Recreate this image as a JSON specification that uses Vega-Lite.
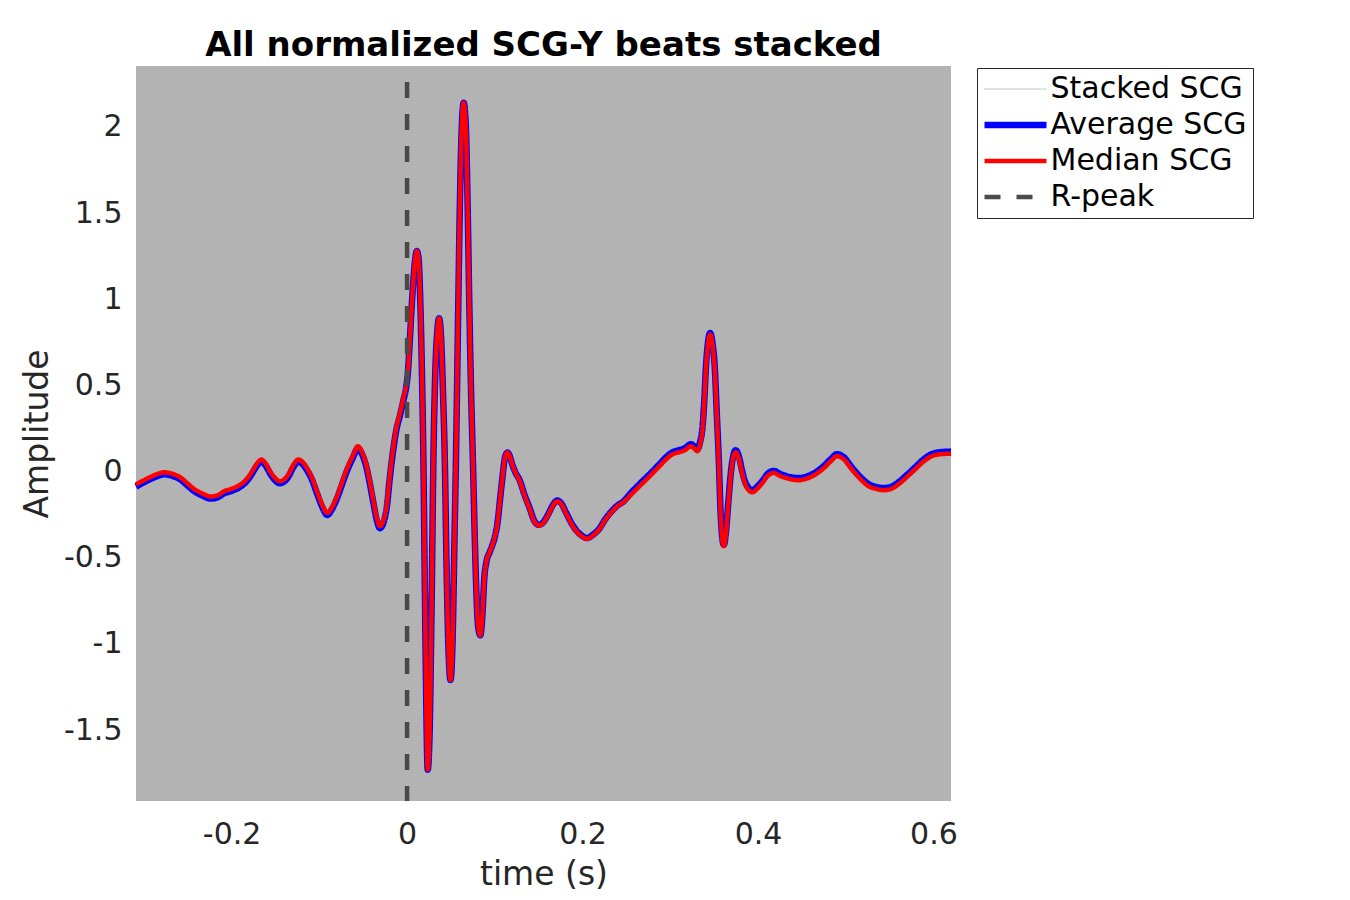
{
  "$schema": "https://vega.github.io/schema/vega-lite/v6.json",
  "width": 815,
  "height": 735,
  "autosize": {"type": "none"},
  "padding": {"left": 136, "top": 66, "right": 399, "bottom": 99},
  "background": "white",
  "title": {"text": "All normalized SCG-Y beats stacked", "font": "DejaVu Sans", "fontSize": 34, "fontWeight": "bold", "color": "#000000", "anchor": "middle", "frame": "group", "baseline": "alphabetic", "offset": 15, "dy": 41},
  "config": {
    "view": {"fill": "#b3b3b3", "stroke": null},
    "axis": {"grid": false, "domain": false, "ticks": false, "tickSize": 0, "labelFont": "DejaVu Sans", "labelFontSize": 30, "labelColor": "#262626", "titleFont": "DejaVu Sans", "titleFontSize": 33, "titleColor": "#262626", "titleFontWeight": "normal", "labelFlush": false, "labelOverlap": false},
    "legend": {"orient": "none", "legendX": 841, "legendY": 2, "strokeColor": "#262626", "fillColor": "#ffffff", "padding": 6, "symbolType": "M-3.1,0H3.1", "symbolSize": 400, "symbolOffset": 17.5, "labelFont": "DejaVu Sans", "labelFontSize": 30, "labelColor": "#000000", "rowPadding": 6, "labelOffset": 20, "labelLimit": 400}
  },
  "datasets": {
    "median": [
      {"t": -0.309, "v": -0.075}, {"t": -0.3, "v": -0.05}, {"t": -0.292, "v": -0.03}, {"t": -0.285, "v": -0.015}, {"t": -0.277, "v": -0.004}, {"t": -0.268, "v": -0.012}, {"t": -0.258, "v": -0.035}, {"t": -0.25, "v": -0.07}, {"t": -0.243, "v": -0.1}, {"t": -0.232, "v": -0.13}, {"t": -0.224, "v": -0.145}, {"t": -0.215, "v": -0.135}, {"t": -0.209, "v": -0.115}, {"t": -0.2, "v": -0.1}, {"t": -0.19, "v": -0.075}, {"t": -0.184, "v": -0.05}, {"t": -0.178, "v": -0.01}, {"t": -0.172, "v": 0.04}, {"t": -0.166, "v": 0.07}, {"t": -0.161, "v": 0.045}, {"t": -0.156, "v": 0.0}, {"t": -0.15, "v": -0.04}, {"t": -0.145, "v": -0.056}, {"t": -0.14, "v": -0.045}, {"t": -0.135, "v": -0.015}, {"t": -0.13, "v": 0.035}, {"t": -0.124, "v": 0.07}, {"t": -0.119, "v": 0.055}, {"t": -0.114, "v": 0.02}, {"t": -0.108, "v": -0.04}, {"t": -0.103, "v": -0.11}, {"t": -0.097, "v": -0.19}, {"t": -0.091, "v": -0.24}, {"t": -0.086, "v": -0.21}, {"t": -0.08, "v": -0.145}, {"t": -0.075, "v": -0.075}, {"t": -0.069, "v": 0.01}, {"t": -0.062, "v": 0.09}, {"t": -0.056, "v": 0.147}, {"t": -0.051, "v": 0.11}, {"t": -0.046, "v": 0.03}, {"t": -0.042, "v": -0.07}, {"t": -0.038, "v": -0.18}, {"t": -0.034, "v": -0.28}, {"t": -0.031, "v": -0.317}, {"t": -0.027, "v": -0.285}, {"t": -0.023, "v": -0.19}, {"t": -0.02, "v": -0.04}, {"t": -0.016, "v": 0.13}, {"t": -0.012, "v": 0.26}, {"t": -0.008, "v": 0.34}, {"t": -0.004, "v": 0.43}, {"t": -0.001, "v": 0.5},
      {"t": 0.001, "v": 0.58}, {"t": 0.003, "v": 0.75}, {"t": 0.006, "v": 1.02}, {"t": 0.009, "v": 1.22}, {"t": 0.011, "v": 1.28}, {"t": 0.013, "v": 1.24}, {"t": 0.015, "v": 1.0}, {"t": 0.017, "v": 0.55}, {"t": 0.0186, "v": 0.07}, {"t": 0.02, "v": -0.55}, {"t": 0.0215, "v": -1.2}, {"t": 0.0235, "v": -1.73}, {"t": 0.0255, "v": -1.55}, {"t": 0.028, "v": -0.75}, {"t": 0.03, "v": 0.07}, {"t": 0.032, "v": 0.55}, {"t": 0.0345, "v": 0.82}, {"t": 0.0365, "v": 0.89}, {"t": 0.0385, "v": 0.8}, {"t": 0.041, "v": 0.45}, {"t": 0.043, "v": 0.07}, {"t": 0.045, "v": -0.55}, {"t": 0.047, "v": -1.0}, {"t": 0.0495, "v": -1.21}, {"t": 0.052, "v": -0.95}, {"t": 0.054, "v": -0.4}, {"t": 0.0557, "v": 0.07}, {"t": 0.058, "v": 0.85}, {"t": 0.06, "v": 1.5}, {"t": 0.062, "v": 1.95}, {"t": 0.0645, "v": 2.14}, {"t": 0.067, "v": 2.0}, {"t": 0.069, "v": 1.55}, {"t": 0.071, "v": 0.95}, {"t": 0.073, "v": 0.45}, {"t": 0.075, "v": 0.07}, {"t": 0.077, "v": -0.35}, {"t": 0.079, "v": -0.7}, {"t": 0.081, "v": -0.9}, {"t": 0.0835, "v": -0.95}, {"t": 0.086, "v": -0.82}, {"t": 0.088, "v": -0.62}, {"t": 0.0906, "v": -0.52}, {"t": 0.094, "v": -0.47}, {"t": 0.097, "v": -0.43}, {"t": 0.1, "v": -0.38}, {"t": 0.103, "v": -0.3}, {"t": 0.106, "v": -0.16}, {"t": 0.109, "v": -0.02}, {"t": 0.1115, "v": 0.08}, {"t": 0.1145, "v": 0.11}, {"t": 0.117, "v": 0.09}, {"t": 0.12, "v": 0.04}, {"t": 0.124, "v": -0.01},
      {"t": 0.128, "v": -0.05}, {"t": 0.134, "v": -0.14}, {"t": 0.14, "v": -0.22}, {"t": 0.145, "v": -0.29}, {"t": 0.15, "v": -0.313}, {"t": 0.155, "v": -0.3}, {"t": 0.161, "v": -0.25}, {"t": 0.166, "v": -0.2}, {"t": 0.171, "v": -0.172}, {"t": 0.176, "v": -0.19}, {"t": 0.181, "v": -0.24}, {"t": 0.187, "v": -0.3}, {"t": 0.193, "v": -0.346}, {"t": 0.199, "v": -0.375}, {"t": 0.205, "v": -0.39}, {"t": 0.212, "v": -0.37}, {"t": 0.219, "v": -0.336}, {"t": 0.226, "v": -0.28}, {"t": 0.234, "v": -0.23}, {"t": 0.24, "v": -0.2}, {"t": 0.246, "v": -0.18}, {"t": 0.255, "v": -0.135}, {"t": 0.265, "v": -0.085}, {"t": 0.276, "v": -0.03}, {"t": 0.2875, "v": 0.03}, {"t": 0.295, "v": 0.07}, {"t": 0.3026, "v": 0.1}, {"t": 0.31, "v": 0.112}, {"t": 0.317, "v": 0.125}, {"t": 0.3235, "v": 0.147}, {"t": 0.327, "v": 0.135}, {"t": 0.331, "v": 0.118}, {"t": 0.334, "v": 0.16}, {"t": 0.337, "v": 0.26}, {"t": 0.339, "v": 0.42}, {"t": 0.3406, "v": 0.59}, {"t": 0.343, "v": 0.74}, {"t": 0.3455, "v": 0.795}, {"t": 0.348, "v": 0.74}, {"t": 0.351, "v": 0.57}, {"t": 0.353, "v": 0.33}, {"t": 0.355, "v": 0.1}, {"t": 0.3575, "v": -0.26}, {"t": 0.359, "v": -0.38}, {"t": 0.361, "v": -0.433}, {"t": 0.3635, "v": -0.36}, {"t": 0.366, "v": -0.2}, {"t": 0.369, "v": -0.02}, {"t": 0.371, "v": 0.06}, {"t": 0.3746, "v": 0.112}, {"t": 0.378, "v": 0.08}, {"t": 0.382, "v": -0.01}, {"t": 0.386, "v": -0.08}, {"t": 0.3935, "v": -0.12}, {"t": 0.399, "v": -0.1}, {"t": 0.405, "v": -0.066}, {"t": 0.411, "v": -0.025}, {"t": 0.418, "v": -0.008}, {"t": 0.425, "v": -0.025}, {"t": 0.4315, "v": -0.037}, {"t": 0.4466, "v": -0.05}, {"t": 0.456, "v": -0.04}, {"t": 0.4655, "v": -0.017}, {"t": 0.475, "v": 0.02}, {"t": 0.483, "v": 0.06}, {"t": 0.49, "v": 0.089}, {"t": 0.498, "v": 0.07}, {"t": 0.507, "v": 0.012}, {"t": 0.516, "v": -0.04}, {"t": 0.526, "v": -0.085}, {"t": 0.534, "v": -0.1}, {"t": 0.543, "v": -0.108}, {"t": 0.552, "v": -0.1}, {"t": 0.56, "v": -0.075}, {"t": 0.569, "v": -0.035}, {"t": 0.579, "v": 0.012}, {"t": 0.588, "v": 0.055}, {"t": 0.598, "v": 0.089}, {"t": 0.607, "v": 0.1}, {"t": 0.62, "v": 0.104}
    ],
    "average": [
      {"t": -0.309, "v": -0.087}, {"t": -0.3, "v": -0.062}, {"t": -0.292, "v": -0.042}, {"t": -0.285, "v": -0.027}, {"t": -0.277, "v": -0.016}, {"t": -0.268, "v": -0.024}, {"t": -0.258, "v": -0.047}, {"t": -0.25, "v": -0.082}, {"t": -0.243, "v": -0.112}, {"t": -0.232, "v": -0.142}, {"t": -0.224, "v": -0.157}, {"t": -0.215, "v": -0.147}, {"t": -0.209, "v": -0.127}, {"t": -0.2, "v": -0.112}, {"t": -0.19, "v": -0.087}, {"t": -0.184, "v": -0.062}, {"t": -0.178, "v": -0.022}, {"t": -0.172, "v": 0.028}, {"t": -0.166, "v": 0.058}, {"t": -0.161, "v": 0.033}, {"t": -0.156, "v": -0.012}, {"t": -0.15, "v": -0.052}, {"t": -0.145, "v": -0.068}, {"t": -0.14, "v": -0.057}, {"t": -0.135, "v": -0.027}, {"t": -0.13, "v": 0.023}, {"t": -0.124, "v": 0.058}, {"t": -0.119, "v": 0.043}, {"t": -0.114, "v": 0.008}, {"t": -0.108, "v": -0.052}, {"t": -0.103, "v": -0.122}, {"t": -0.097, "v": -0.202}, {"t": -0.091, "v": -0.252}, {"t": -0.086, "v": -0.222}, {"t": -0.08, "v": -0.157}, {"t": -0.075, "v": -0.087}, {"t": -0.069, "v": -0.002}, {"t": -0.062, "v": 0.078}, {"t": -0.056, "v": 0.135}, {"t": -0.051, "v": 0.098}, {"t": -0.046, "v": 0.018}, {"t": -0.042, "v": -0.082}, {"t": -0.038, "v": -0.192}, {"t": -0.034, "v": -0.292}, {"t": -0.031, "v": -0.329}, {"t": -0.027, "v": -0.297}, {"t": -0.023, "v": -0.202}, {"t": -0.02, "v": -0.052}, {"t": -0.016, "v": 0.118}, {"t": -0.012, "v": 0.248}, {"t": -0.008, "v": 0.328}, {"t": -0.004, "v": 0.418}, {"t": -0.001, "v": 0.49},
      {"t": 0.001, "v": 0.58}, {"t": 0.003, "v": 0.75}, {"t": 0.006, "v": 1.02}, {"t": 0.009, "v": 1.22}, {"t": 0.011, "v": 1.28}, {"t": 0.013, "v": 1.24}, {"t": 0.015, "v": 1.0}, {"t": 0.017, "v": 0.55}, {"t": 0.0186, "v": 0.07}, {"t": 0.02, "v": -0.55}, {"t": 0.0215, "v": -1.2}, {"t": 0.0235, "v": -1.73}, {"t": 0.0255, "v": -1.55}, {"t": 0.028, "v": -0.75}, {"t": 0.03, "v": 0.07}, {"t": 0.032, "v": 0.55}, {"t": 0.0345, "v": 0.82}, {"t": 0.0365, "v": 0.89}, {"t": 0.0385, "v": 0.8}, {"t": 0.041, "v": 0.45}, {"t": 0.043, "v": 0.07}, {"t": 0.045, "v": -0.55}, {"t": 0.047, "v": -1.0}, {"t": 0.0495, "v": -1.21}, {"t": 0.052, "v": -0.95}, {"t": 0.054, "v": -0.4}, {"t": 0.0557, "v": 0.07}, {"t": 0.058, "v": 0.85}, {"t": 0.06, "v": 1.5}, {"t": 0.062, "v": 1.95}, {"t": 0.0645, "v": 2.14}, {"t": 0.067, "v": 2.0}, {"t": 0.069, "v": 1.55}, {"t": 0.071, "v": 0.95}, {"t": 0.073, "v": 0.45}, {"t": 0.075, "v": 0.07}, {"t": 0.077, "v": -0.35}, {"t": 0.079, "v": -0.7}, {"t": 0.081, "v": -0.9}, {"t": 0.0835, "v": -0.95}, {"t": 0.086, "v": -0.82}, {"t": 0.088, "v": -0.62}, {"t": 0.0906, "v": -0.52}, {"t": 0.094, "v": -0.47}, {"t": 0.097, "v": -0.43}, {"t": 0.1, "v": -0.38}, {"t": 0.103, "v": -0.3}, {"t": 0.106, "v": -0.16}, {"t": 0.109, "v": -0.02}, {"t": 0.1115, "v": 0.08}, {"t": 0.1145, "v": 0.11}, {"t": 0.117, "v": 0.09}, {"t": 0.12, "v": 0.04}, {"t": 0.124, "v": -0.01},
      {"t": 0.128, "v": -0.046}, {"t": 0.134, "v": -0.136}, {"t": 0.14, "v": -0.216}, {"t": 0.145, "v": -0.286}, {"t": 0.15, "v": -0.309}, {"t": 0.155, "v": -0.296}, {"t": 0.161, "v": -0.246}, {"t": 0.166, "v": -0.196}, {"t": 0.171, "v": -0.168}, {"t": 0.176, "v": -0.186}, {"t": 0.181, "v": -0.236}, {"t": 0.187, "v": -0.296}, {"t": 0.193, "v": -0.342}, {"t": 0.199, "v": -0.371}, {"t": 0.205, "v": -0.386}, {"t": 0.212, "v": -0.366}, {"t": 0.219, "v": -0.332}, {"t": 0.226, "v": -0.276}, {"t": 0.234, "v": -0.226}, {"t": 0.24, "v": -0.196}, {"t": 0.246, "v": -0.176}, {"t": 0.255, "v": -0.125}, {"t": 0.265, "v": -0.073}, {"t": 0.276, "v": -0.018}, {"t": 0.2875, "v": 0.042}, {"t": 0.295, "v": 0.082}, {"t": 0.3026, "v": 0.112}, {"t": 0.31, "v": 0.124}, {"t": 0.317, "v": 0.137}, {"t": 0.3235, "v": 0.159}, {"t": 0.327, "v": 0.147}, {"t": 0.331, "v": 0.13}, {"t": 0.334, "v": 0.172}, {"t": 0.337, "v": 0.272}, {"t": 0.339, "v": 0.432}, {"t": 0.3406, "v": 0.6}, {"t": 0.343, "v": 0.75}, {"t": 0.3455, "v": 0.805}, {"t": 0.348, "v": 0.75}, {"t": 0.351, "v": 0.58}, {"t": 0.353, "v": 0.34}, {"t": 0.355, "v": 0.11}, {"t": 0.3575, "v": -0.25}, {"t": 0.359, "v": -0.37}, {"t": 0.361, "v": -0.425}, {"t": 0.3635, "v": -0.35}, {"t": 0.366, "v": -0.19}, {"t": 0.369, "v": -0.01}, {"t": 0.371, "v": 0.07}, {"t": 0.3746, "v": 0.124}, {"t": 0.378, "v": 0.092}, {"t": 0.382, "v": 0.002}, {"t": 0.386, "v": -0.068}, {"t": 0.3935, "v": -0.108}, {"t": 0.399, "v": -0.088}, {"t": 0.405, "v": -0.054}, {"t": 0.411, "v": -0.013}, {"t": 0.418, "v": 0.004}, {"t": 0.425, "v": -0.013}, {"t": 0.4315, "v": -0.025}, {"t": 0.4466, "v": -0.038}, {"t": 0.456, "v": -0.028}, {"t": 0.4655, "v": -0.005}, {"t": 0.475, "v": 0.032}, {"t": 0.483, "v": 0.072}, {"t": 0.49, "v": 0.101}, {"t": 0.498, "v": 0.082}, {"t": 0.507, "v": 0.024}, {"t": 0.516, "v": -0.028}, {"t": 0.526, "v": -0.073}, {"t": 0.534, "v": -0.088}, {"t": 0.543, "v": -0.096}, {"t": 0.552, "v": -0.088}, {"t": 0.56, "v": -0.063}, {"t": 0.569, "v": -0.023}, {"t": 0.579, "v": 0.024}, {"t": 0.588, "v": 0.067}, {"t": 0.598, "v": 0.101}, {"t": 0.607, "v": 0.112}, {"t": 0.62, "v": 0.116}
    ],
    "rpeak": [{"t": 0, "series": "R-peak"}]
  },
  "encoding": {
    "x": {"field": "t", "type": "quantitative", "scale": {"domain": [-0.309, 0.62], "nice": false, "zero": false},
      "axis": {"values": [-0.2, 0, 0.2, 0.4, 0.6], "labelExpr": "'' + datum.value", "title": "time (s)", "titleY": 83, "titleBaseline": "alphabetic", "labelBaseline": "alphabetic", "labelPadding": 42}},
    "color": {"field": "series", "type": "nominal", "scale": {"domain": ["Stacked SCG", "Average SCG", "Median SCG", "R-peak"], "range": ["#bdbdbd", "#0000ff", "#ff0000", "#4a4a4a"]}, "legend": {"title": null}},
    "strokeWidth": {"field": "series", "type": "nominal", "scale": {"type": "ordinal", "domain": ["Stacked SCG", "Average SCG", "Median SCG", "R-peak"], "range": [1, 6.5, 4.5, 4.5]}, "legend": {"title": null}},
    "strokeDash": {"field": "series", "type": "nominal", "scale": {"domain": ["Stacked SCG", "Average SCG", "Median SCG", "R-peak"], "range": [[1, 0], [1, 0], [1, 0], [16, 16]]}, "legend": {"title": null}}
  },
  "layer": [
    {"data": {"name": "average"}, "transform": [{"calculate": "'Average SCG'", "as": "series"}],
      "mark": {"type": "line", "interpolate": "monotone", "strokeJoin": "round"},
      "encoding": {"y": {"field": "v", "type": "quantitative", "scale": {"domain": [-1.912, 2.354], "nice": false, "zero": false},
        "axis": {"values": [-1.5, -1, -0.5, 0, 0.5, 1, 1.5, 2], "labelExpr": "'' + datum.value", "title": "Amplitude", "titleX": -89, "titleAngle": 270, "titleBaseline": "alphabetic", "titleAlign": "center", "labelPadding": 14, "labelBaseline": "middle"}}}},
    {"data": {"name": "median"}, "transform": [{"calculate": "'Median SCG'", "as": "series"}],
      "mark": {"type": "line", "interpolate": "monotone", "strokeJoin": "round"},
      "encoding": {"y": {"field": "v", "type": "quantitative"}}},
    {"data": {"name": "rpeak"}, "mark": {"type": "rule", "strokeDashOffset": 16}, "encoding": {}}
  ]
}
